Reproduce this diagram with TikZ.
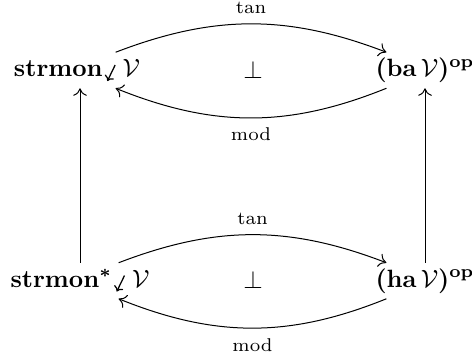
\documentclass[tikz,border=0pt]{standalone}
\usepackage{amsmath,amssymb}
\usetikzlibrary{arrows.meta}
\newsavebox{\laxbox}
\sbox{\laxbox}{\tikz[baseline=0pt]{\useasboundingbox (0,-1.8pt) rectangle (3.4pt,4.6pt);\draw[line width=0.5pt,-{To[length=2pt,width=4pt]}] (3.4pt,4.6pt) -- (0.3pt,-1.8pt);}}
\newcommand{\lax}{\hspace{1.6pt}\usebox{\laxbox}\hspace{3pt}}
\begin{document}
\begin{tikzpicture}[x={(0.4pt,0)},y={(0,-0.4pt)},
  obj/.style={inner sep=2pt,text height=7.5pt,text depth=2.5pt,anchor=base},
  lab/.style={font=\fontsize{7.4}{9}\selectfont},
  arr/.style={-{To[length=3pt,width=5.5pt]},line width=0.4pt}]
\useasboundingbox (0,0) rectangle (472,356);
\node[obj] (A) at (77,76.5) {\textbf{strmon}\lax$\mathcal{V}$};
\node[obj] (B) at (425,76.5) {\textbf{(ba}\,$\mathcal{V}$\textbf{)}$^{\mathbf{op}}$};
\node[obj] (C) at (80,287) {\textbf{strmon}$^{\boldsymbol{*}}$\lax$\mathcal{V}$};
\node[obj] (D) at (425,287) {\textbf{(ha}\,$\mathcal{V}$\textbf{)}$^{\mathbf{op}}$};
\node[anchor=base] (p1) at (253,78) {$\perp$};
\node[anchor=base] (p2) at (253,288.5) {$\perp$};
\draw[arr] (A.25) to[out=21,in=159] node[lab,above=0.6pt] {tan} (B.155);
\draw[arr] (B.-155) to[out=-158,in=-22] node[lab,below=0.5pt] {mod} (A.-25);
\draw[arr] (C.25) to[out=21,in=159] node[lab,above=0.6pt] {tan} (D.155);
\draw[arr] (D.-155) to[out=-158,in=-22] node[lab,below=0.5pt] {mod} (C.-25);
\draw[arr] (C.north) -- (C.north |- A.south);
\draw[arr] (D) -- (B);
\end{tikzpicture}
\end{document}
